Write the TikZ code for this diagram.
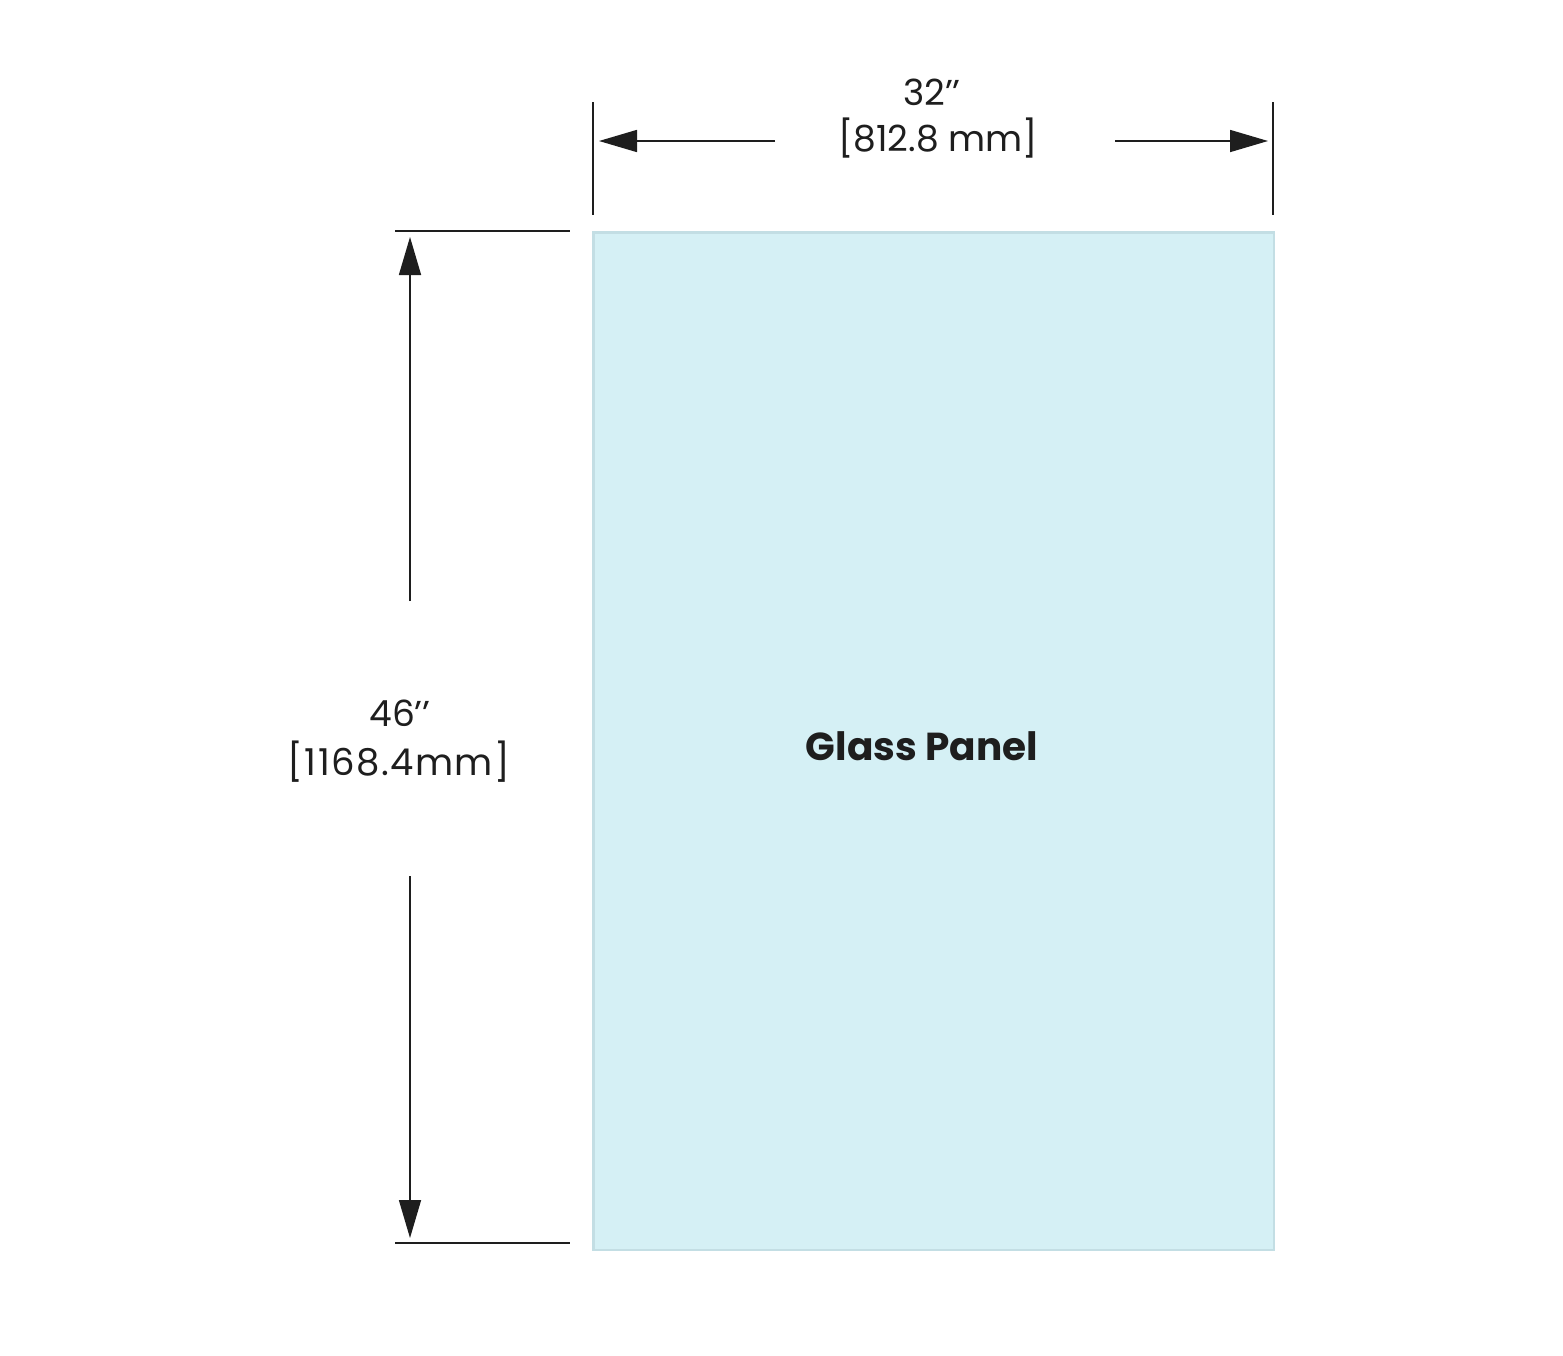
\documentclass[tikz,border=0pt]{standalone}
\usepackage{fontspec}
\setmainfont{Poppins}
\usetikzlibrary{arrows.meta}
\definecolor{glass}{HTML}{D5F0F5}
\definecolor{glassedge}{HTML}{C3DEE4}
\definecolor{ink}{HTML}{1E1E1E}
\tikzset{
  dimline/.style={draw=ink, line width=1.6pt},
  dimarrow/.style={draw=ink, line width=1.6pt, -{Triangle[length=38pt,width=22pt]}},
  dimtext/.style={font=\fontsize{36}{44}\selectfont, text=ink, inner sep=0pt, align=center},
}
\begin{document}
\begin{tikzpicture}[x=1pt,y=-1pt]
\useasboundingbox[fill=white] (0,0) rectangle (1563,1355);
% panel
\node[draw=glassedge, fill=glass, line width=2.5pt, minimum width=680.5pt, minimum height=1017.5pt, inner sep=0pt, anchor=north west] (panel) at (592,231) {};
\node[font=\fontsize{39}{47}\selectfont\bfseries, text=ink, inner sep=0pt] (label) at (922,746) {Glass Panel};
% top extension lines
\coordinate (tl1) at (593,102); \coordinate (tl2) at (593,215);
\coordinate (tr1) at (1273,102); \coordinate (tr2) at (1273,215);
\draw[dimline] (tl1) -- (tl2);
\draw[dimline] (tr1) -- (tr2);
% top dimension
\coordinate (ha) at (775,141); \coordinate (hat) at (599,141);
\coordinate (hb) at (1115,141); \coordinate (hbt) at (1268,141);
\draw[dimarrow] (ha) -- (hat);
\draw[dimarrow] (hb) -- (hbt);
\node[dimtext] (w1) at (932,92) {32’’};
\node[dimtext] (w2) at (938,138) {[812.8 mm]};
% left extension lines
\coordinate (lt1) at (395,231); \coordinate (lt2) at (570,231);
\coordinate (lb1) at (395,1243); \coordinate (lb2) at (570,1243);
\draw[dimline] (lt1) -- (lt2);
\draw[dimline] (lb1) -- (lb2);
% left dimension
\coordinate (va) at (410,601); \coordinate (vat) at (410,237);
\coordinate (vb) at (410,876); \coordinate (vbt) at (410,1238);
\draw[dimarrow] (va) -- (vat);
\draw[dimarrow] (vb) -- (vbt);
\node[dimtext] (h1) at (400,713) {46’’};
\node[dimtext, font=\fontsize{37}{44}\selectfont\addfontfeatures{LetterSpace=4}] (h2) at (399,762) {[1168.4mm]};
\end{tikzpicture}
\end{document}
